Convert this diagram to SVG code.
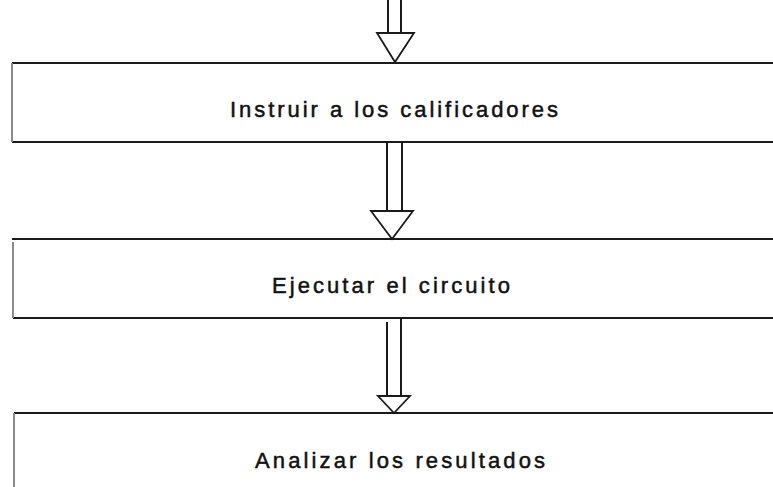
<svg xmlns="http://www.w3.org/2000/svg" width="773" height="487" viewBox="0 0 773 487">
<style>
.edge{stroke:#1a1a1a;stroke-width:2.2;fill:none}
.side{stroke:#8a8a8a;stroke-width:2;fill:none}
.shaft{stroke:#1a1a1a;stroke-width:2;fill:none}
.head{stroke:#1a1a1a;stroke-width:1.8;fill:#fff;stroke-linejoin:miter}
.lbl{font-family:"Liberation Sans",Arial,sans-serif;font-size:22px;fill:#111;stroke:#111;stroke-width:0.5;text-anchor:start}
</style>
<rect width="773" height="487" fill="#fff"/>
<g id="connectors">
<g id="arrow0">
<line class="shaft" x1="388" y1="0" x2="388" y2="33"/>
<line class="shaft" x1="401" y1="0" x2="401" y2="33"/>
<polygon class="head" points="377,33 414,33 395,62"/>
</g>
<g id="arrow1">
<line class="shaft" x1="387" y1="142" x2="387" y2="211"/>
<line class="shaft" x1="402" y1="142" x2="402" y2="211"/>
<polygon class="head" points="371,211 413,211 392,239"/>
</g>
<g id="arrow2">
<line class="shaft" x1="387" y1="322" x2="387" y2="396"/>
<line class="shaft" x1="401" y1="318" x2="401" y2="396"/>
<polygon class="head" points="378,396 410,396 394,413"/>
</g>
</g>
<g id="node1">
<line class="edge" x1="12" y1="63" x2="773" y2="63"/>
<line class="edge" x1="12" y1="142" x2="773" y2="142"/>
<line class="side" x1="12" y1="63" x2="12" y2="142"/>
<text class="lbl" x="230" y="117" textLength="328" lengthAdjust="spacing">Instruir a los calificadores</text>
</g>
<g id="node2">
<line class="edge" x1="12" y1="239" x2="773" y2="239"/>
<line class="edge" x1="13" y1="318" x2="773" y2="318"/>
<line class="side" x1="13" y1="242" x2="13" y2="318"/>
<text class="lbl" x="272" y="293" textLength="238" lengthAdjust="spacing">Ejecutar el circuito</text>
</g>
<g id="node3">
<line class="edge" x1="14" y1="413" x2="773" y2="413"/>
<line class="side" x1="14" y1="413" x2="14" y2="487"/>
<text class="lbl" x="255" y="468" textLength="290" lengthAdjust="spacing">Analizar los resultados</text>
</g>
</svg>
